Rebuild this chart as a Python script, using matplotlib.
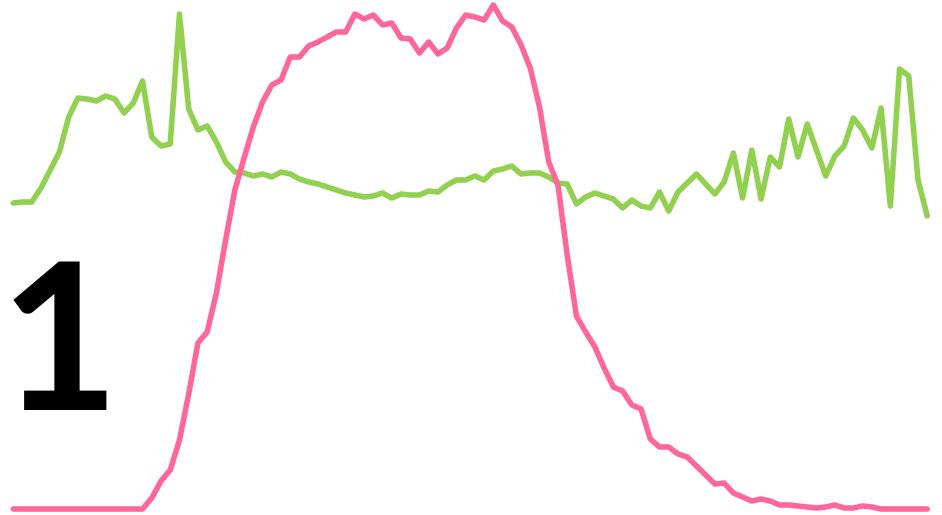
import numpy as np
import matplotlib
matplotlib.use('Agg')
import matplotlib.pyplot as plt

# values (height above the pink baseline)
green = [306, 307, 307, 321, 339, 357, 392, 411, 410, 408,
         413, 410, 396, 406, 428, 372, 363, 365, 495, 400,
         379, 383, 367, 347, 337, 336, 333, 335, 332, 337,
         335, 330, 327, 325, 322, 319, 316, 314, 312, 313,
         316, 311, 315, 314, 314, 318, 317, 324, 329, 329,
         333, 329, 338, 340, 343, 335, 336, 336, 332, 326,
         325, 305, 312, 316, 313, 310, 301, 309, 303, 301,
         317, 298, 317, 326, 335, 325, 315, 327, 356, 311,
         359, 310, 352, 342, 390, 352, 385, 359, 333, 353,
         363, 391, 379, 361, 401, 303, 440, 433, 329, 293]

pink = [0, 0, 0, 0, 0, 0, 0, 0, 0, 0,
        0, 0, 0, 0, 0, 11, 28, 39, 69, 115,
        166, 177, 216, 269, 319, 351, 382, 407, 424, 429,
        452, 452, 463, 467, 472, 477, 477, 495, 490, 494,
        484, 486, 471, 470, 456, 467, 455, 461, 481, 494,
        492, 489, 504, 488, 482, 464, 441, 402, 347, 324,
        254, 193, 177, 162, 141, 122, 118, 104, 100, 70,
        62, 62, 55, 52, 43, 34, 25, 26, 16, 12,
        8, 10, 8, 4, 4, 3, 2, 1, 2, 4,
        1, 1, 3, 2, 0, 0, 0, 0, 0, 0]

label = '1'

x = np.arange(len(green))

fig = plt.figure(figsize=(9.42, 5.15), dpi=100)
ax = fig.add_axes([0, 0, 1, 1])
ax.plot(x, green, color='#92D050', lw=4.0, solid_capstyle='round', solid_joinstyle='round')
ax.plot(x, pink, color='#FF6699', lw=4.0, solid_capstyle='round', solid_joinstyle='round')
ax.set_xlim(-1.44, 100.6)
ax.set_ylim(-6, 509)
ax.axis('off')

ax.text(0.0, 0.204, label, transform=ax.transAxes, ha='left', va='baseline',
        fontsize=148, fontweight='bold', family=['Lato', 'DejaVu Sans'], color='black')

fig.savefig('out.png', dpi=100)
